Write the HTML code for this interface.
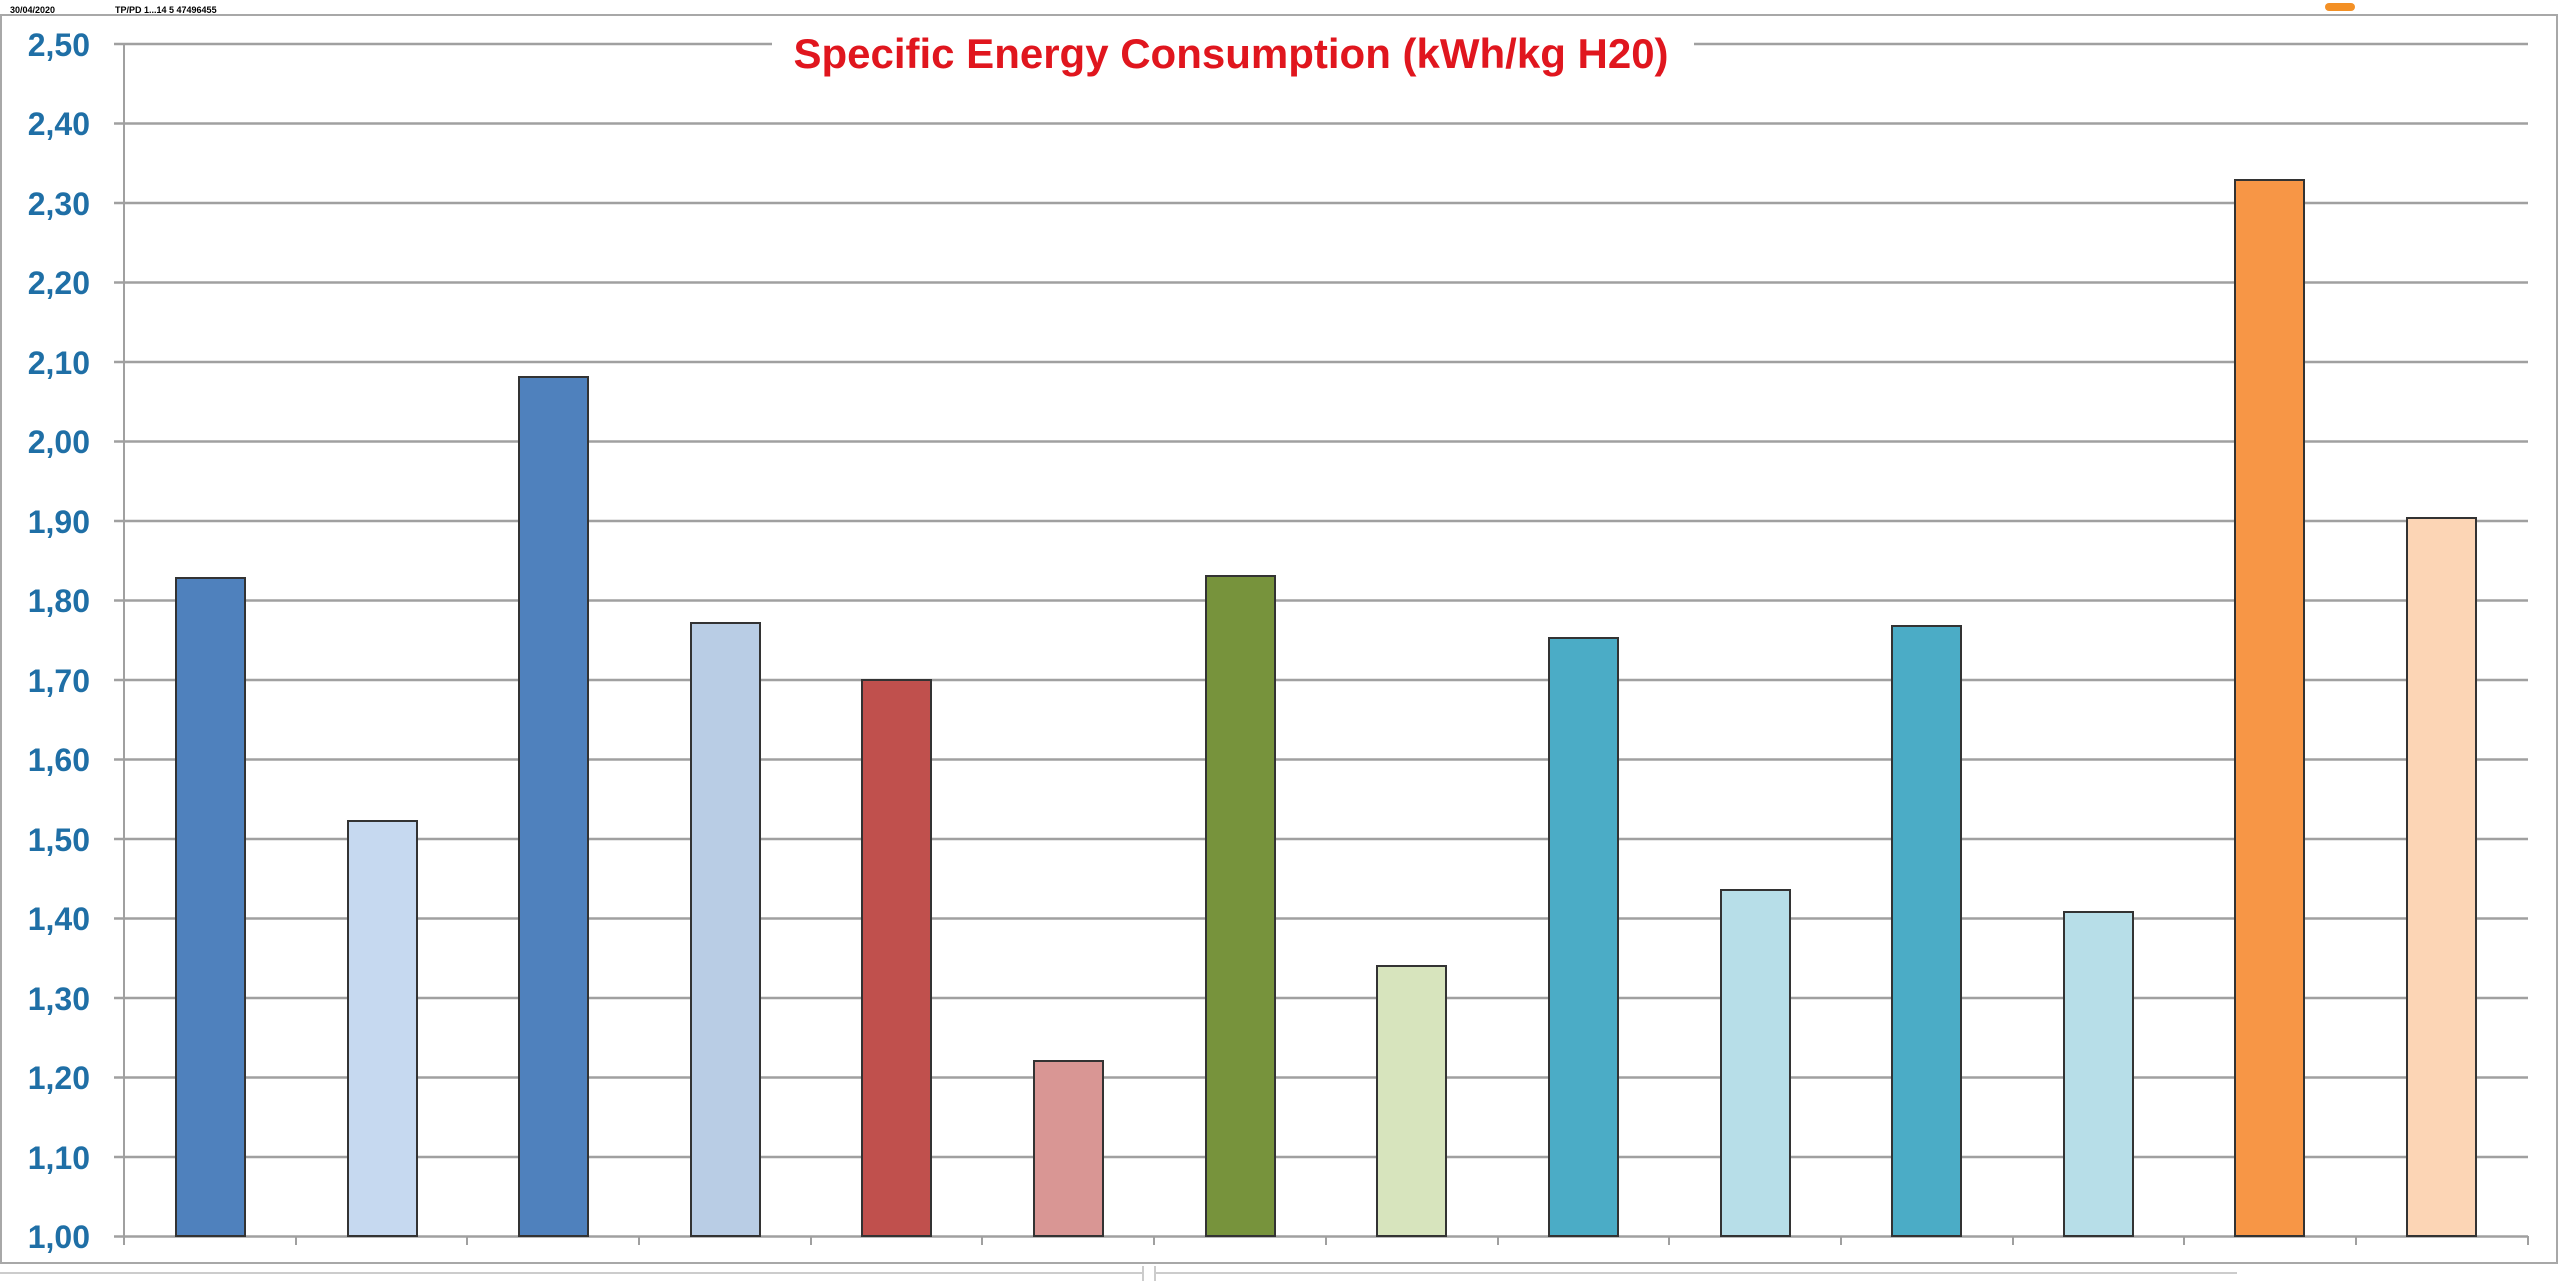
<!DOCTYPE html>
<html><head><meta charset="utf-8"><style>
body{margin:0;background:#fff;}
svg{display:block;}
</style></head><body>
<svg width="2560" height="1281" viewBox="0 0 2560 1281" xmlns="http://www.w3.org/2000/svg">
<rect width="2560" height="1281" fill="#fff"/>
<text x="10" y="13" font-family="Liberation Sans, sans-serif" font-size="9" font-weight="bold" fill="#000">30/04/2020</text>
<text x="115" y="13" font-family="Liberation Sans, sans-serif" font-size="9" font-weight="bold" fill="#000">TP/PD 1...14 5 47496455</text>
<rect x="2325" y="3" width="30" height="8" rx="4" fill="#f39025"/>
<rect x="1" y="15" width="2556" height="1248" fill="none" stroke="#a8a8a8" stroke-width="2"/>
<line x1="0" y1="1273" x2="1143" y2="1273" stroke="#ccc" stroke-width="2"/>
<line x1="1143" y1="1266" x2="1143" y2="1281" stroke="#ccc" stroke-width="2"/>
<line x1="1155" y1="1273" x2="2237" y2="1273" stroke="#ccc" stroke-width="2"/>
<line x1="1155" y1="1266" x2="1155" y2="1281" stroke="#ccc" stroke-width="2"/>
<g id="grid" stroke="#a0a0a0" stroke-width="2.5">
<line x1="114" y1="44" x2="2528" y2="44"/>
<line x1="114" y1="123.5" x2="2528" y2="123.5"/>
<line x1="114" y1="203" x2="2528" y2="203"/>
<line x1="114" y1="282.5" x2="2528" y2="282.5"/>
<line x1="114" y1="362" x2="2528" y2="362"/>
<line x1="114" y1="441.5" x2="2528" y2="441.5"/>
<line x1="114" y1="521" x2="2528" y2="521"/>
<line x1="114" y1="600.5" x2="2528" y2="600.5"/>
<line x1="114" y1="680" x2="2528" y2="680"/>
<line x1="114" y1="759.5" x2="2528" y2="759.5"/>
<line x1="114" y1="839" x2="2528" y2="839"/>
<line x1="114" y1="918.5" x2="2528" y2="918.5"/>
<line x1="114" y1="998" x2="2528" y2="998"/>
<line x1="114" y1="1077.5" x2="2528" y2="1077.5"/>
<line x1="114" y1="1157" x2="2528" y2="1157"/>
<line x1="114" y1="1236.5" x2="2528" y2="1236.5"/>
</g>
<line x1="124" y1="44" x2="124" y2="1236" stroke="#a0a0a0" stroke-width="2"/>
<g stroke="#a0a0a0" stroke-width="2">
<line x1="124" y1="1236" x2="124" y2="1245"/><line x1="296" y1="1236" x2="296" y2="1245"/><line x1="467" y1="1236" x2="467" y2="1245"/><line x1="639" y1="1236" x2="639" y2="1245"/><line x1="811" y1="1236" x2="811" y2="1245"/><line x1="982" y1="1236" x2="982" y2="1245"/><line x1="1154" y1="1236" x2="1154" y2="1245"/><line x1="1326" y1="1236" x2="1326" y2="1245"/><line x1="1498" y1="1236" x2="1498" y2="1245"/><line x1="1669" y1="1236" x2="1669" y2="1245"/><line x1="1841" y1="1236" x2="1841" y2="1245"/><line x1="2013" y1="1236" x2="2013" y2="1245"/><line x1="2184" y1="1236" x2="2184" y2="1245"/><line x1="2356" y1="1236" x2="2356" y2="1245"/><line x1="2528" y1="1236" x2="2528" y2="1245"/>
</g>
<g font-family="Liberation Sans, sans-serif" font-size="32" font-weight="bold" fill="#1f6fa6" text-anchor="end">
<text x="90" y="56">2,50</text><text x="90" y="135">2,40</text><text x="90" y="215">2,30</text><text x="90" y="294">2,20</text><text x="90" y="374">2,10</text><text x="90" y="453">2,00</text><text x="90" y="533">1,90</text><text x="90" y="612">1,80</text><text x="90" y="692">1,70</text><text x="90" y="771">1,60</text><text x="90" y="851">1,50</text><text x="90" y="930">1,40</text><text x="90" y="1010">1,30</text><text x="90" y="1089">1,20</text><text x="90" y="1169">1,10</text><text x="90" y="1248">1,00</text>
</g>
<rect x="772" y="22" width="922" height="58" fill="#fff"/>
<text x="1231" y="68" font-family="Liberation Sans, sans-serif" font-size="42" font-weight="bold" fill="#e0161e" text-anchor="middle">Specific Energy Consumption (kWh/kg H20)</text>
<g stroke="#333" stroke-width="2">
<rect x="176" y="578" width="69" height="658" fill="#4f81bd"/>
<rect x="348" y="821" width="69" height="415" fill="#c6d9f0"/>
<rect x="519" y="377" width="69" height="859" fill="#4f81bd"/>
<rect x="691" y="623" width="69" height="613" fill="#b9cde5"/>
<rect x="862" y="680" width="69" height="556" fill="#c0504d"/>
<rect x="1034" y="1061" width="69" height="175" fill="#d99694"/>
<rect x="1206" y="576" width="69" height="660" fill="#77933c"/>
<rect x="1377" y="966" width="69" height="270" fill="#d7e4bd"/>
<rect x="1549" y="638" width="69" height="598" fill="#4bacc6"/>
<rect x="1721" y="890" width="69" height="346" fill="#b7dee8"/>
<rect x="1892" y="626" width="69" height="610" fill="#4bacc6"/>
<rect x="2064" y="912" width="69" height="324" fill="#b7dee8"/>
<rect x="2235" y="180" width="69" height="1056" fill="#f79646"/>
<rect x="2407" y="518" width="69" height="718" fill="#fcd5b5"/>
</g>
</svg>
</body></html>
